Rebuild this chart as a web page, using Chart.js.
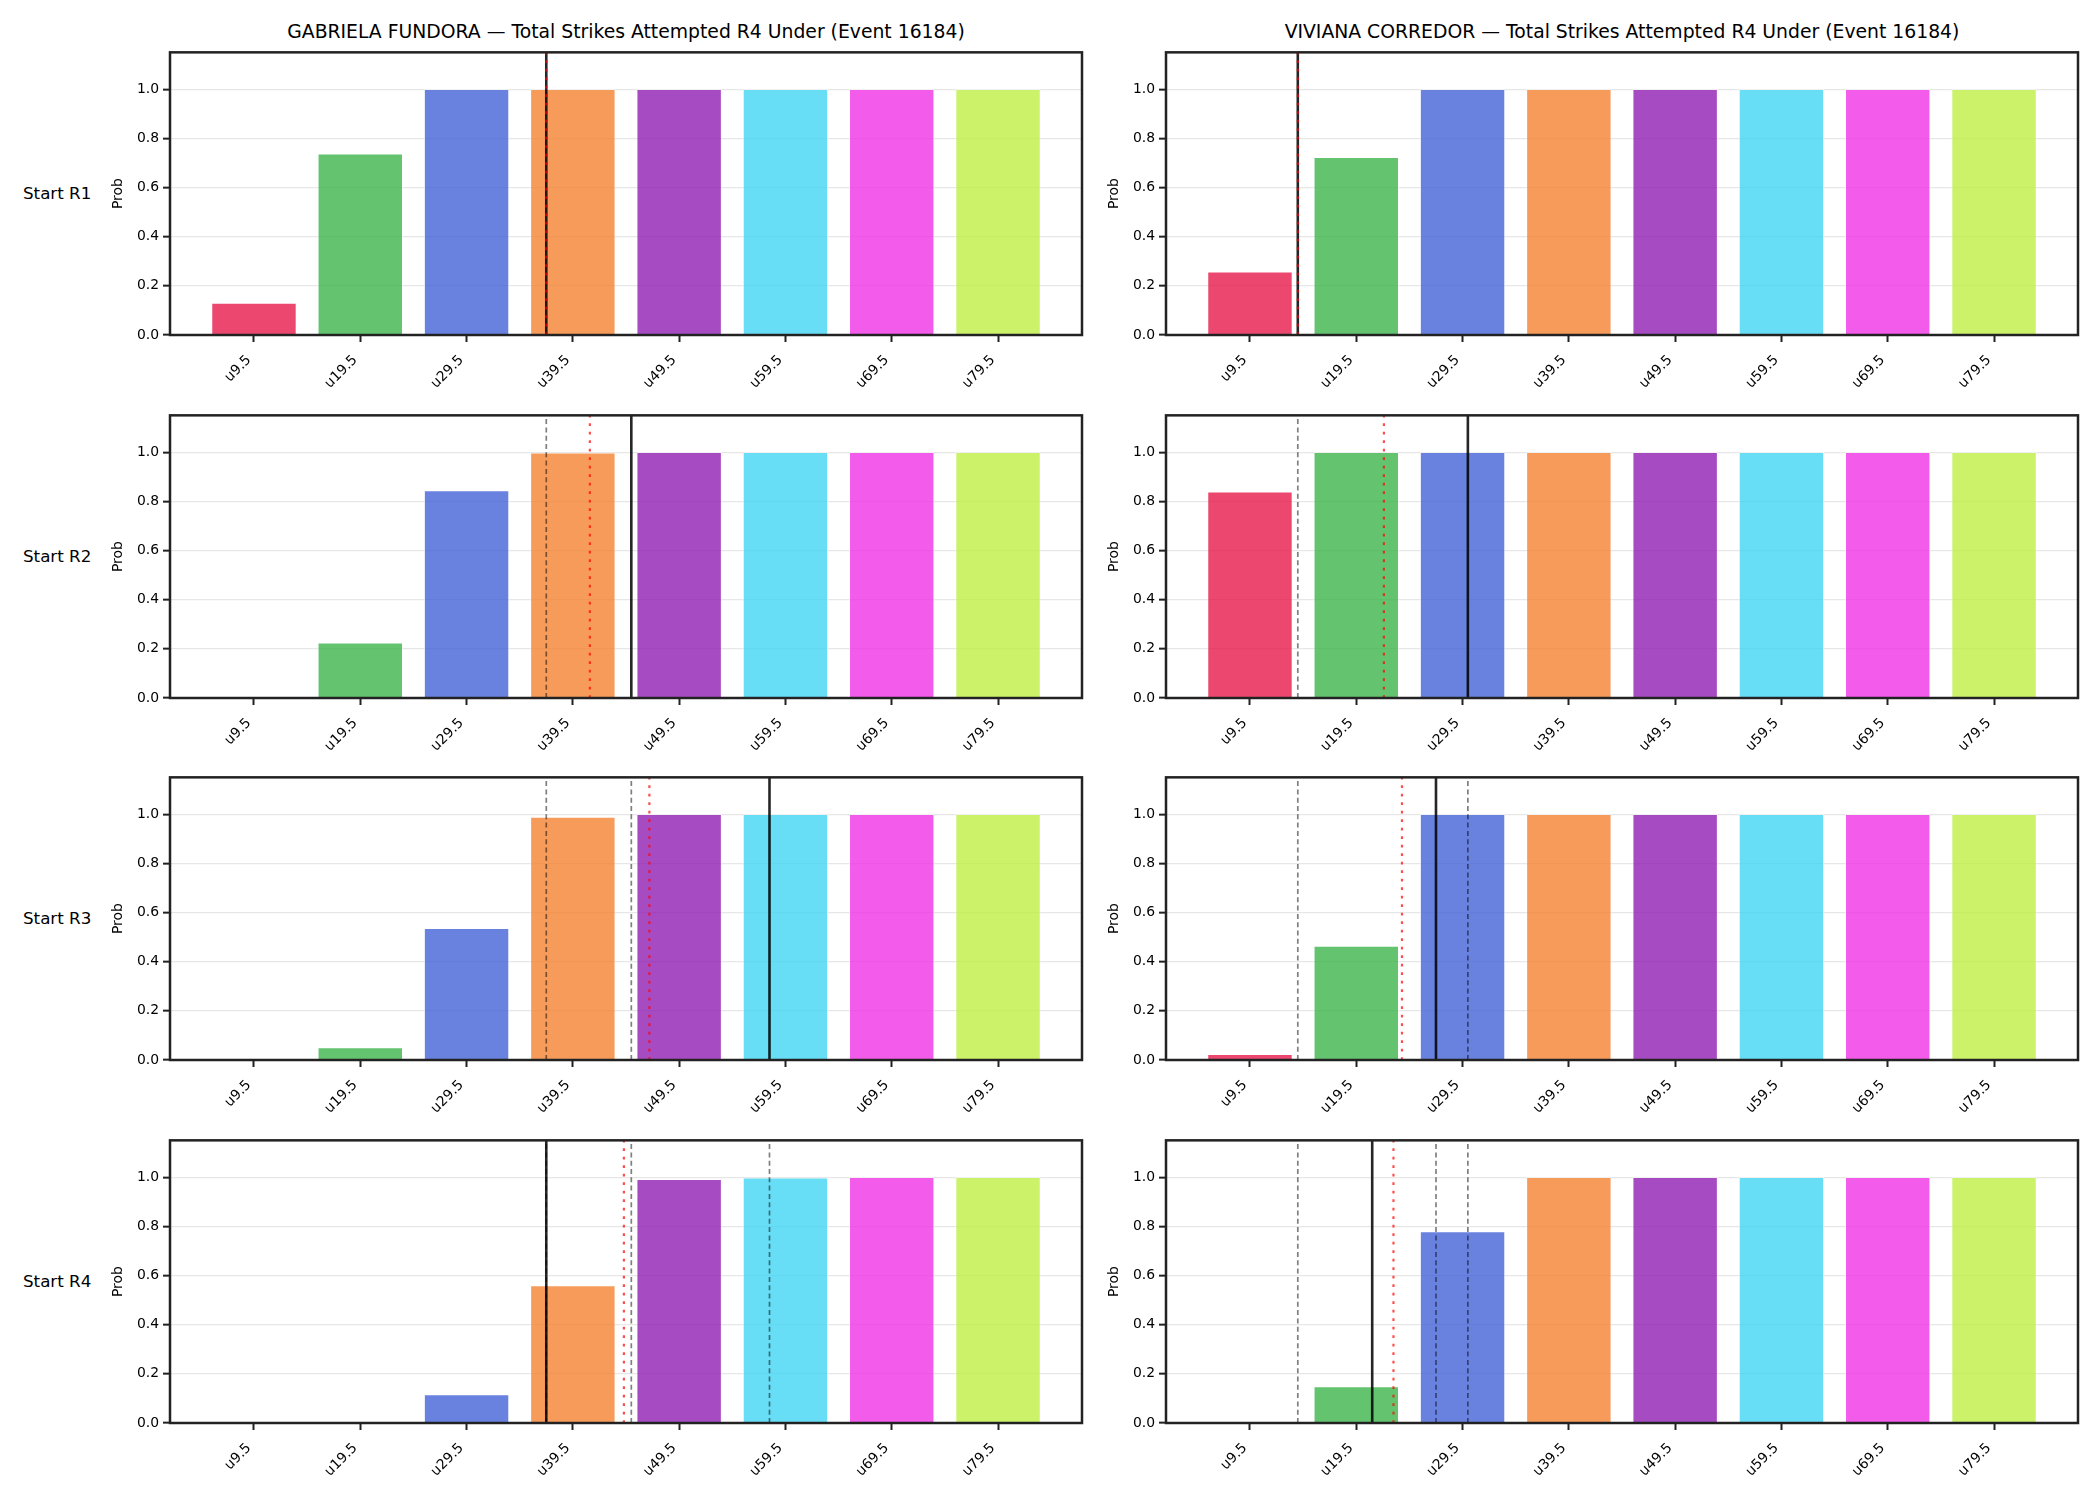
<!DOCTYPE html>
<html>
<head>
<meta charset="utf-8">
<script src="https://cdn.jsdelivr.net/npm/chart.js@4"></script>
<style>
  body { margin: 0; background: #fff; }
  #fig { position: relative; width: 2100px; height: 1500px; font-family: 'DejaVu Sans', sans-serif; color: #000; }
  canvas { position: absolute; }
  .ttl { position: absolute; font-size: 18.8px; white-space: nowrap; transform: translate(-50%, -50%); }
  .row { position: absolute; font-size: 16.7px; white-space: nowrap; transform: translateY(-50%); }
</style>
</head>
<body>
<div id="fig"></div>
<script>
// ---- data ----
const LINE_VALUES = [9.5, 19.5, 29.5, 39.5, 49.5, 59.5, 69.5, 79.5];
const LINE_LABELS = ['u9.5', 'u19.5', 'u29.5', 'u39.5', 'u49.5', 'u59.5', 'u69.5', 'u79.5'];
const FIGHTERS = ['GABRIELA FUNDORA', 'VIVIANA CORREDOR'];
const ROUND_LABELS = ['Start R1', 'Start R2', 'Start R3', 'Start R4'];
const Y_TICKS = [0, 0.2, 0.4, 0.6, 0.8, 1.0];

// P(under) per line, one array per starting round
const fundoraR1 = [0.13, 0.738, 1, 1, 1, 1, 1, 1];
const fundoraR2 = [0.005, 0.225, 0.844, 0.998, 1, 1, 1, 1];
const fundoraR3 = [0, 0.051, 0.536, 0.989, 1, 1, 1, 1];
const fundoraR4 = [0, 0, 0.116, 0.56, 0.992, 0.998, 1, 1];
const corredorR1 = [0.258, 0.723, 1, 1, 1, 1, 1, 1];
const corredorR2 = [0.839, 1, 1, 1, 1, 1, 1, 1];
const corredorR3 = [0.024, 0.464, 1, 1, 1, 1, 1, 1];
const corredorR4 = [0, 0.149, 0.779, 1, 1, 1, 1, 1];

// marker lines (strikes): current value, projection, earlier rounds
const fundoraCurrent = [37, 45, 58, 37];
const fundoraProj = [37, 41.1, 46.7, 44.3];
const corredorCurrent = [14, 30, 27, 21];
const corredorProj = [14, 22.1, 23.8, 23.0];

const BAR_COLORS = ['#e6194b', '#3cb44b', '#4363d8', '#f58231', '#911eb4', '#42d4f4', '#f032e6', '#bfef45']
  .map(c => c + 'cc');

// ---- layout ----
const COL_LEFT = [170, 1166];
const ROW_TOP = [50, 413, 775, 1138];
const PLOT_W = 912, PLOT_H = 285;
const Y_AXIS_W = 66, X_AXIS_H = 75, PAD = 10;

const fig = document.getElementById('fig');
const FONT = 'DejaVu Sans';

const framePlugin = {
  id: 'frame',
  afterDraw(chart) {
    const { ctx, chartArea: a } = chart;
    ctx.save();
    ctx.strokeStyle = '#222';
    ctx.lineWidth = 2.5;
    ctx.strokeRect(a.left, a.top, a.right - a.left, a.bottom - a.top);
    ctx.restore();
  }
};

function vline(x, color, width, dash, order) {
  return {
    type: 'line', data: [{ x, y: 0 }, { x, y: 1.15 }],
    borderColor: color, borderWidth: width, borderDash: dash,
    pointRadius: 0, fill: false, order,
  };
}

function drawPanel(col, row, probs, current, proj) {
  const cv = document.createElement('canvas');
  const w = PLOT_W + Y_AXIS_W + PAD, h = PLOT_H + PAD + X_AXIS_H;
  cv.width = w; cv.height = h;
  cv.style.left = (COL_LEFT[col] - Y_AXIS_W) + 'px';
  cv.style.top = (ROW_TOP[row] - PAD) + 'px';
  fig.appendChild(cv);

  const datasets = [{
    type: 'bar',
    data: LINE_VALUES.map((x, i) => ({ x, y: probs[i] })),
    backgroundColor: BAR_COLORS,
    borderColor: 'rgba(255,255,255,0.7)',
    borderWidth: 0.8,
    categoryPercentage: 1,
    barPercentage: 0.8,
    order: 10,
  }];
  // earlier rounds as grey dashes
  for (let r = 0; r < row; r++) datasets.push(vline(current[r], 'rgba(0,0,0,0.5)', 1.7, [5, 3.3], 5));
  datasets.push(vline(current[row], 'rgba(0,0,0,0.85)', 2.6, [], 3));
  datasets.push(vline(proj[row], 'rgba(255,0,0,0.7)', 2.2, [2.7, 5.8], 1));

  new Chart(cv, {
    type: 'bar',
    data: { datasets },
    options: {
      responsive: false, animation: false, devicePixelRatio: 1,
      layout: { padding: { top: PAD, right: PAD, left: 0, bottom: 0 } },
      plugins: { legend: { display: false }, tooltip: { enabled: false } },
      scales: {
        x: {
          type: 'linear', min: 1.6, max: 87.4, offset: false,
          afterBuildTicks: s => { s.ticks = LINE_VALUES.map(v => ({ value: v })); },
          afterFit: s => { s.height = X_AXIS_H; },
          ticks: {
            autoSkip: false, minRotation: 45, maxRotation: 45, padding: 10, labelOffset: -5,
            color: '#000', font: { family: FONT, size: 13.9 },
            callback: (v, i) => LINE_LABELS[i],
          },
          grid: { display: true, drawOnChartArea: false, offset: false, tickLength: 7, tickColor: '#222', tickWidth: 2 },
          border: { display: false },
        },
        y: {
          min: 0, max: 1.15, z: 1,
          afterBuildTicks: s => { s.ticks = Y_TICKS.map(v => ({ value: v })); },
          afterFit: s => { s.width = Y_AXIS_W; },
          ticks: { color: '#000', font: { family: FONT, size: 13.9 }, padding: 4, callback: v => v.toFixed(1) },
          grid: { color: 'rgba(176,176,176,0.3)', lineWidth: 1.3, tickLength: 7, tickColor: '#222', tickWidth: 2 },
          border: { display: false },
          title: { display: true, text: 'Prob', color: '#000', font: { family: FONT, size: 13.9 }, padding: { top: 6, bottom: 2 } },
        },
      },
    },
    plugins: [framePlugin],
  });
}

const panels = [
  [fundoraR1, fundoraR2, fundoraR3, fundoraR4],
  [corredorR1, corredorR2, corredorR3, corredorR4],
];
const currents = [fundoraCurrent, corredorCurrent];
const projs = [fundoraProj, corredorProj];

for (let c = 0; c < 2; c++) {
  const t = document.createElement('div');
  t.className = 'ttl';
  t.textContent = FIGHTERS[c] + ' — Total Strikes Attempted R4 Under (Event 16184)';
  t.style.left = (COL_LEFT[c] + PLOT_W / 2) + 'px';
  t.style.top = '31px';
  fig.appendChild(t);
  for (let r = 0; r < 4; r++) drawPanel(c, r, panels[c][r], currents[c], projs[c]);
}
for (let r = 0; r < 4; r++) {
  const d = document.createElement('div');
  d.className = 'row';
  d.textContent = ROUND_LABELS[r];
  d.style.left = '23px';
  d.style.top = (ROW_TOP[r] + PLOT_H / 2) + 'px';
  fig.appendChild(d);
}
</script>
</body>
</html>
